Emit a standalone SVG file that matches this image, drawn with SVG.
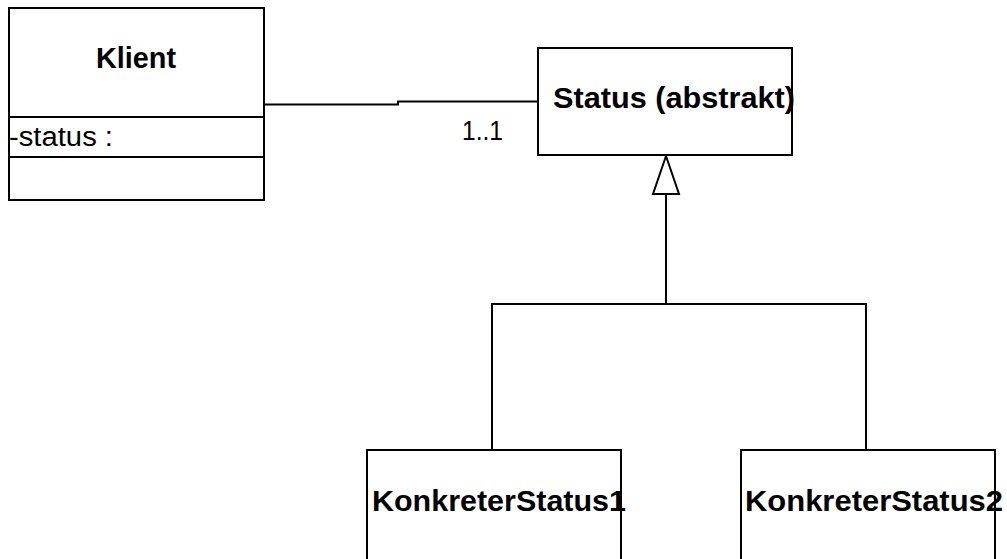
<svg xmlns="http://www.w3.org/2000/svg" width="1007" height="559" viewBox="0 0 1007 559">
  <style>
    .box { fill: #ffffff; stroke: #000000; stroke-width: 2; }
    .line { fill: none; stroke: #000000; stroke-width: 2; }
    .arrow { fill: #ffffff; stroke: #000000; stroke-width: 2; }
    .title { font-family: "Liberation Sans", Arial, sans-serif; font-weight: bold; font-size: 29px; fill: #000000; }
    .attr { font-family: "Liberation Sans", Arial, sans-serif; font-size: 27px; fill: #000000; }
  </style>
  <rect width="1007" height="559" fill="#ffffff"/>

  <!-- Connectors -->
  <g id="connectors">
    <!-- association Klient -> Status -->
    <polyline class="line" points="264,104.5 398,104.5 398,101.5 538,101.5"/>
    <text class="attr" x="462" y="140" textLength="41" lengthAdjust="spacingAndGlyphs">1..1</text>
    <!-- generalization tree -->
    <polyline class="line" points="492,450 492,304 866,304 866,450"/>
    <line class="line" x1="666" y1="304" x2="666" y2="193"/>
    <polygon class="arrow" points="666,156 679,194 653,194"/>
  </g>

  <!-- Klient -->
  <g id="klient">
    <rect class="box" x="9" y="8" width="255" height="192"/>
    <line class="line" x1="9" y1="117" x2="264" y2="117"/>
    <line class="line" x1="9" y1="157" x2="264" y2="157"/>
    <text class="title" x="96" y="68" textLength="80" lengthAdjust="spacingAndGlyphs">Klient</text>
    <text class="attr" x="9" y="146" textLength="104" lengthAdjust="spacingAndGlyphs">-status :</text>
  </g>

  <!-- Status (abstrakt) -->
  <g id="status">
    <rect class="box" x="538" y="48" width="254" height="107"/>
    <text class="title" x="553" y="108" textLength="242" lengthAdjust="spacingAndGlyphs">Status (abstrakt)</text>
  </g>

  <!-- KonkreterStatus1 -->
  <g id="konkreterStatus1">
    <rect class="box" x="367" y="450" width="254" height="120"/>
    <text class="title" x="372" y="511" textLength="254" lengthAdjust="spacingAndGlyphs">KonkreterStatus1</text>
  </g>

  <!-- KonkreterStatus2 -->
  <g id="konkreterStatus2">
    <rect class="box" x="741" y="450" width="254" height="120"/>
    <text class="title" x="745" y="511" textLength="258" lengthAdjust="spacingAndGlyphs">KonkreterStatus2</text>
  </g>
</svg>
